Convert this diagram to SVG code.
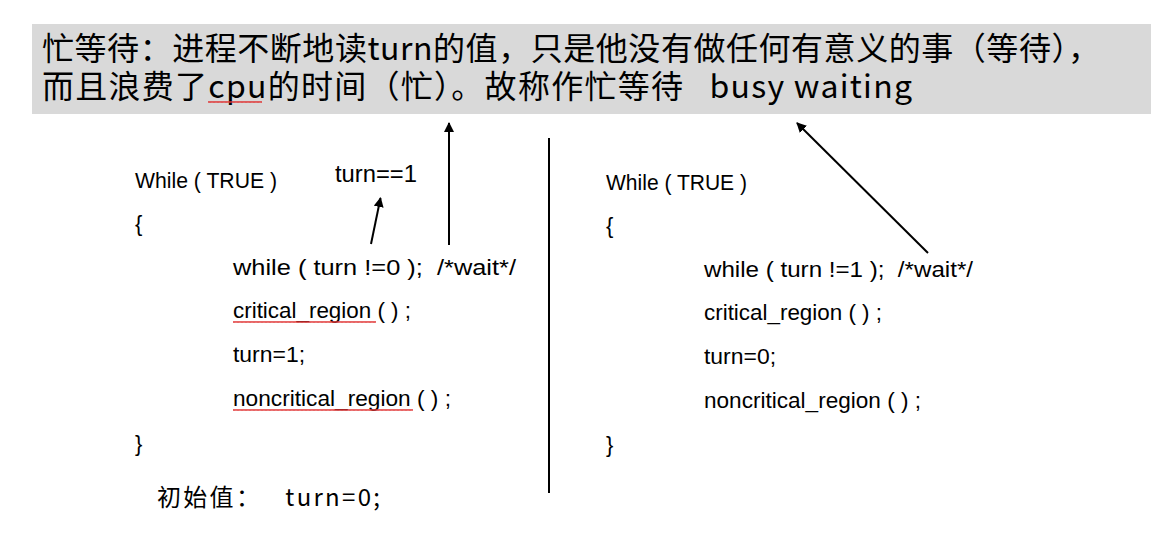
<svg xmlns="http://www.w3.org/2000/svg" width="1171" height="538" viewBox="0 0 1171 538">
<defs>
<style>
text{white-space:pre}
.title{font-family:"Noto Sans CJK SC","Noto Sans",sans-serif;font-size:32px;fill:#000}
.code{font-family:"Liberation Sans",Arial,sans-serif;font-size:22px;fill:#000}
.lbl{font-family:"Liberation Sans",Arial,sans-serif;font-size:23px;fill:#000}
.init{font-family:"Noto Sans CJK SC","Noto Sans",sans-serif;font-size:24px;fill:#000}
.conn{stroke:#000;stroke-width:2;fill:none;marker-end:url(#ah)}
</style>
<marker id="ah" viewBox="0 0 10 10" refX="9" refY="5" markerWidth="5" markerHeight="5" orient="auto" markerUnits="strokeWidth">
<path d="M0,0 L10,5 L0,10 z" fill="#000"/>
</marker>
<pattern id="wv" x="0" y="0" width="4" height="4" patternUnits="userSpaceOnUse">
<path d="M0,3 L1,1 L2,3 L3,1 L4,3" stroke="#e03030" stroke-width="0.9" fill="none"/>
</pattern>
</defs>
<rect width="1171" height="538" fill="#fff"/>
<g id="title-box">
<rect x="32" y="24" width="1119" height="90" fill="#d9d9d9"/>
<text class="title" x="42" y="60" textLength="1058" lengthAdjust="spacing" xml:space="preserve">忙等待：进程不断地读turn的值，只是他没有做任何有意义的事（等待），</text>
<text class="title" x="42" y="98" textLength="870" lengthAdjust="spacing" xml:space="preserve">而且浪费了cpu的时间（忙）。故称作忙等待   busy waiting</text>
<rect x="208" y="100" width="54" height="4" fill="url(#wv)"/>
</g>
<g id="process0">
<text class="code" x="135" y="188" textLength="142" lengthAdjust="spacingAndGlyphs" xml:space="preserve">While ( TRUE )</text>
<text class="code" x="135" y="231">{</text>
<text class="code" x="233" y="275" textLength="283" lengthAdjust="spacingAndGlyphs" xml:space="preserve">while ( turn !=0 );  /*wait*/</text>
<text class="code" x="233" y="318" textLength="178" lengthAdjust="spacingAndGlyphs" xml:space="preserve">critical_region ( ) ;</text>
<rect x="233" y="320" width="143" height="4" fill="url(#wv)"/>
<text class="code" x="233" y="362" textLength="72" lengthAdjust="spacingAndGlyphs">turn=1;</text>
<text class="code" x="233" y="406" textLength="218" lengthAdjust="spacingAndGlyphs" xml:space="preserve">noncritical_region ( ) ;</text>
<rect x="233" y="408" width="180" height="4" fill="url(#wv)"/>
<text class="code" x="135" y="451">}</text>
</g>
<g id="label-turn1">
<text class="lbl" x="335" y="182" textLength="82" lengthAdjust="spacingAndGlyphs">turn==1</text>
</g>
<g id="init">
<text class="init" x="157" y="506" textLength="223" lengthAdjust="spacing" xml:space="preserve">初始值：   turn=0;</text>
</g>
<g id="process1">
<text class="code" x="606" y="190" textLength="141" lengthAdjust="spacingAndGlyphs" xml:space="preserve">While ( TRUE )</text>
<text class="code" x="606" y="233">{</text>
<text class="code" x="704" y="277" textLength="269" lengthAdjust="spacingAndGlyphs" xml:space="preserve">while ( turn !=1 );  /*wait*/</text>
<text class="code" x="704" y="320" textLength="178" lengthAdjust="spacingAndGlyphs" xml:space="preserve">critical_region ( ) ;</text>
<text class="code" x="704" y="364" textLength="72" lengthAdjust="spacingAndGlyphs">turn=0;</text>
<text class="code" x="704" y="408" textLength="217" lengthAdjust="spacingAndGlyphs" xml:space="preserve">noncritical_region ( ) ;</text>
<text class="code" x="606" y="452">}</text>
</g>
<g id="divider">
<line x1="549" y1="138" x2="549" y2="493" stroke="#000" stroke-width="2"/>
</g>
<g id="connectors">
<line class="conn" x1="371" y1="244" x2="380.5" y2="198"/>
<line class="conn" x1="449" y1="245" x2="449" y2="123"/>
<line class="conn" x1="928" y1="253" x2="797" y2="123"/>
</g>
</svg>
